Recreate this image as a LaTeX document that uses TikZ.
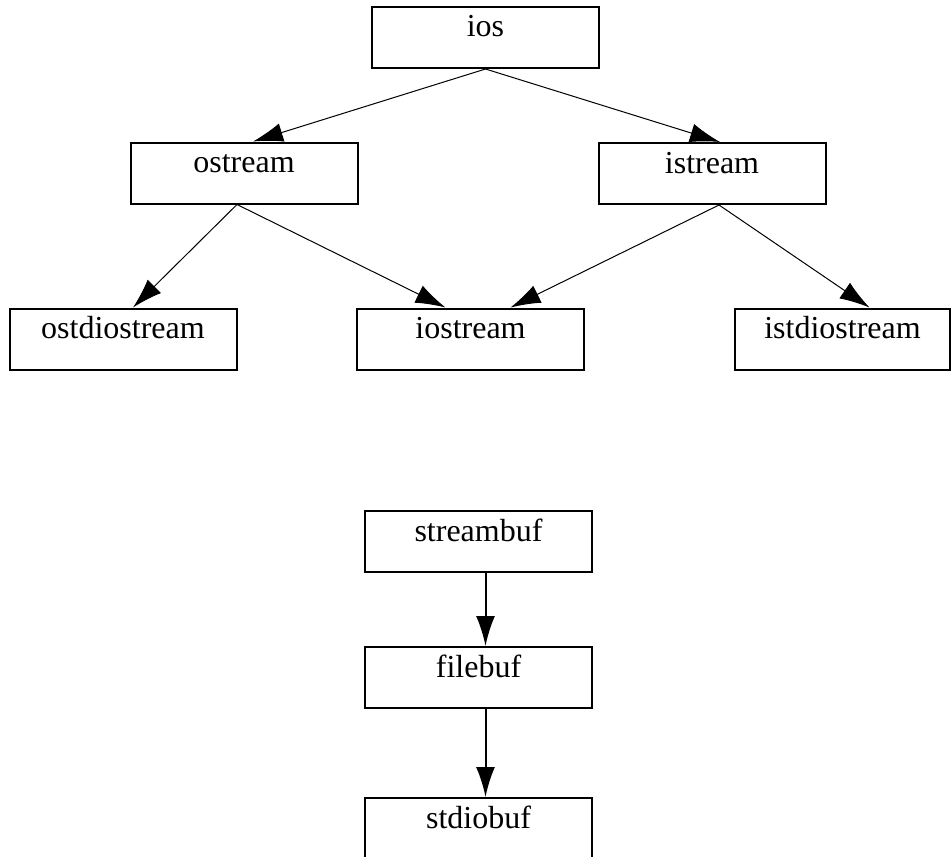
\documentclass[tikz,border=0pt]{standalone}
\usepackage{fontspec}
\setmainfont{Liberation Serif}
\usetikzlibrary{arrows.meta}

\begin{document}
\begin{tikzpicture}[x=0.5pt, y=-0.5pt, >={Latex[length=15pt,width=9.5pt]},
  every node/.style={draw, line width=1pt, minimum width=113.5pt, inner xsep=0pt, inner ysep=0pt,
    text height=15pt, text depth=15.5pt, font=\fontsize{16}{18}\selectfont}]
  \useasboundingbox (0,0) rectangle (952,856);

  % Streams
  \node (ios) at (485.5, 37.5) {ios};

  \node (ostream) at (244, 173) {ostream};
  \node (istream) at (712, 173.5) {istream};

  \node (ostdiostream) at (123, 339) {ostdiostream};
  \node (iostream) at (470.5, 339) {iostream};
  \node (istdiostream) at (842.5, 339) [minimum width=107.5pt] {istdiostream};

  % Buffers
  \node (streambuf) at (478.5, 541.5) {streambuf};
  \node (filebuf) at (478.5, 677.5) {filebuf};
  \node (stdiobuf) at (478.5, 828.5) {stdiobuf};

  % Edges
  \draw[->, line width=0.5pt] (ios.south) to ([xshift=4.5pt]ostream.north);
  \draw[->, line width=0.5pt] (ios.south) to ([xshift=4pt]istream.north);

  \draw[->, line width=0.5pt] ([xshift=-3.5pt]ostream.south) to ([xshift=5pt]ostdiostream.north);
  \draw[->, line width=0.5pt] ([xshift=-3.5pt]ostream.south) to ([xshift=-12.5pt]iostream.north);
  \draw[->, line width=0.5pt] ([xshift=3.5pt]istream.south) to ([xshift=20pt]iostream.north);
  \draw[->, line width=0.5pt] ([xshift=3.5pt]istream.south) to ([xshift=13.5pt]istdiostream.north);

  \draw[->, line width=1pt] ([xshift=3.5pt]streambuf.south) to ([xshift=3.5pt]filebuf.north);
  \draw[->, line width=1pt] ([xshift=3.5pt]filebuf.south) to ([xshift=3.5pt]stdiobuf.north);
\end{tikzpicture}
\end{document}
